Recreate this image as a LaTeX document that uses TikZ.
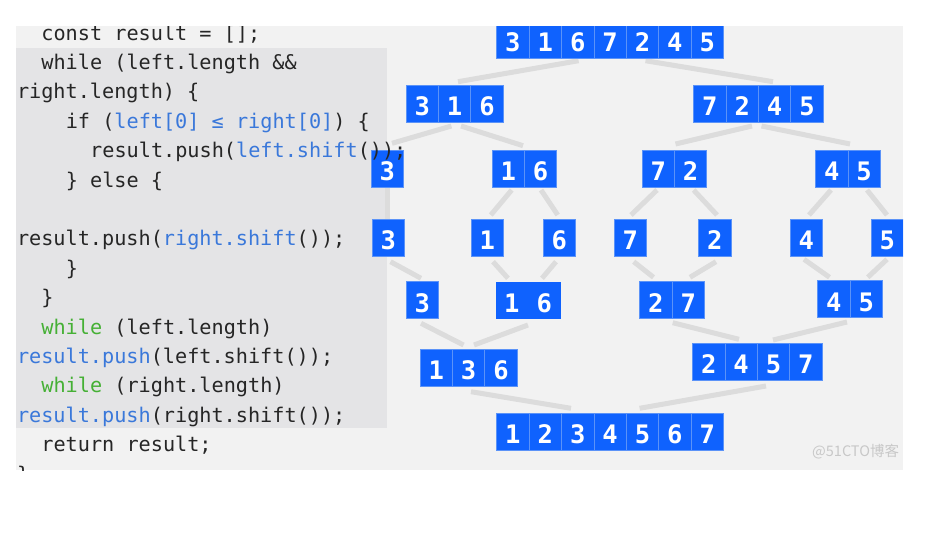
\documentclass[tikz,border=0pt]{standalone}
\usepackage{fontspec}
\usetikzlibrary{calc,backgrounds}
\newfontfamily\codefont{DejaVu Sans Mono}
\newfontfamily\digitfont{DejaVu Sans Mono Bold}
\newfontfamily\cjkfont{Noto Sans CJK SC}
\definecolor{panel}{HTML}{F2F2F2}
\definecolor{codebg}{HTML}{E4E4E6}
\definecolor{boxblue}{HTML}{0F62FE}
\definecolor{sepblue}{HTML}{5B93F8}
\definecolor{linkgray}{HTML}{DCDCDC}
\definecolor{codeink}{HTML}{262626}
\definecolor{codeblue}{HTML}{3A78DA}
\definecolor{codegreen}{HTML}{45B035}
\definecolor{wmgray}{HTML}{C8C8C8}
\tikzset{
  cell/.style={anchor=north west, fill=boxblue, draw=sepblue, line width=0.8pt,
    minimum width=32.4pt, minimum height=37pt, inner sep=0pt, outer sep=0pt,
    text=white, font=\digitfont\fontsize{25.5}{25.5}\selectfont,
    text height=24.3pt, text depth=0pt},
  link/.style={draw=linkgray, line width=5pt},
  codeline/.style={anchor=base west, inner sep=0pt, outer sep=0pt, text=codeink,
    font=\codefont\fontsize{20.2}{24}\selectfont}
}
\newcommand\cellrow[5][]{%
  \foreach \d [count=\i] in {#5}{%
    \node[cell,#1] (#2-\i) at ({#3+(\i-1)*32.4},#4) {\d};}}
\begin{document}
\begin{tikzpicture}[x=1pt,y=-1pt]
\useasboundingbox (0,0) rectangle (927,555);
\begin{scope}
\clip (16,26) rectangle (903,470);
% boxes
\cellrow{A}{496.7}{21}{3,1,6,7,2,4,5}
\cellrow{B}{406}{85.3}{3,1,6}
\cellrow{C}{693.6}{85.3}{7,2,4,5}
\cellrow{D}{371}{150}{3}
\cellrow{E}{492}{150}{1,6}
\cellrow{F}{642}{150}{7,2}
\cellrow{G}{815.5}{150}{4,5}
\cellrow{Ha}{372}{219.3}{3}
\cellrow{Hb}{471}{219.3}{1}
\cellrow{Hc}{543}{219.3}{6}
\cellrow{Hd}{614}{219.3}{7}
\cellrow{He}{698.5}{219.3}{2}
\cellrow{Hf}{790}{219.3}{4}
\cellrow{Hg}{871}{219.3}{5}
\cellrow{I}{406}{281.7}{3}
\cellrow[draw=none]{J}{495.7}{281.7}{1,6}
\cellrow{K}{639.6}{281.7}{2,7}
\cellrow{L}{817.6}{280.7}{4,5}
\cellrow{M}{420}{349}{1,3,6}
\cellrow{N}{692.5}{343.3}{2,4,5,7}
\cellrow{O}{496.7}{413.3}{1,2,3,4,5,6,7}
% code text
\node[codeline] (c1) at (41.4,40) {const result = [];};
\node[codeline] (c2) at (41.4,69.4) {while (left.length \&\&};
\node[codeline] (c3) at (17,98.8) {right.length) \{};
\node[codeline] (c4) at (65.8,128.2) {if (\textcolor{codeblue}{left[0] ≤ right[0]}) \{};
\node[codeline] (c5) at (90.2,157.6) {result.push(\textcolor{codeblue}{left.shift}());};
\node[codeline] (c6) at (65.8,187) {\} else \{};
\node[codeline] (c8) at (17,245.8) {result.push(\textcolor{codeblue}{right.shift}());};
\node[codeline] (c9) at (65.8,275.2) {\}};
\node[codeline] (c10) at (41.4,304.6) {\}};
\node[codeline] (c11) at (41.4,334) {\textcolor{codegreen}{while} (left.length)};
\node[codeline] (c12) at (17,363.4) {\textcolor{codeblue}{result.push}(left.shift());};
\node[codeline] (c13) at (41.4,392.8) {\textcolor{codegreen}{while} (right.length)};
\node[codeline] (c14) at (17,422.2) {\textcolor{codeblue}{result.push}(right.shift());};
\node[codeline] (c15) at (41.4,451.6) {return result;};
\node[codeline] (c16) at (17,481) {\}};
\node[anchor=west, inner sep=0pt, text=wmgray, font=\cjkfont\fontsize{14.5}{14.5}\selectfont] (wm) at (812,452) {@51CTO博客};
\end{scope}
\begin{scope}[on background layer]
\fill[white] (0,0) rectangle (927,555);
\fill[panel] (16,26) rectangle (903,470);
\fill[codebg] (16,48) rectangle (387,428);
\draw[link] ($(A-3.south)+(0.9,2.7)$) -- ($(B-2.north)+(3.4,-3.6)$);
\draw[link] ($(A-5.south)+(3,2.7)$) -- ($(C-3.north)+(-1.6,-3.6)$);
\draw[link] ($(B-2.south)+(-3.2,3.7)$) -- ($(D-1.north)+(4.8,-6.7)$);
\draw[link] ($(B-2.south)+(6.4,3.7)$) -- ($(E-1.north east)+(-1.4,-4.3)$);
\draw[link] ($(C-2.south east)+(-6.4,3.7)$) -- ($(F-1.north east)+(1.1,-6)$);
\draw[link] ($(C-2.south east)+(3.1,3.7)$) -- ($(G-1.north east)+(2.1,-6)$);
\draw[link] (D-1.south) -- (D-1.south |- Ha-1.north);
\draw[link] ($(E-1.south)+(3.5,3)$) -- ($(Hb-1.north)+(3.6,-4.3)$);
\draw[link] ($(E-2.south)+(0.4,3)$) -- ($(Hc-1.north)+(-1.5,-4.3)$);
\draw[link] ($(F-1.south)+(-1.2,3)$) -- ($(Hd-1.north)+(0.8,-4.3)$);
\draw[link] ($(F-2.south)+(3,3)$) -- ($(He-1.north)+(2.3,-4.3)$);
\draw[link] ($(G-1.south)+(-0.7,3)$) -- ($(Hf-1.north)+(2.8,-4.3)$);
\draw[link] ($(G-2.south)+(2.9,3)$) -- ($(Hg-1.north)+(-0.2,-4.3)$);
\draw[link] ($(Ha-1.south)+(2.3,5.4)$) -- ($(I-1.north)+(-1.2,-3.4)$);
\draw[link] ($(Hb-1.south)+(5.8,5.4)$) -- ($(J-1.north)+(-3.9,-3.4)$);
\draw[link] ($(Hc-1.south)+(-3.2,5.4)$) -- ($(J-2.north)+(-2.3,-3.4)$);
\draw[link] ($(Hd-1.south)+(3.5,5.4)$) -- ($(K-1.north)+(-2.3,-4.4)$);
\draw[link] ($(He-1.south)+(1.3,5.4)$) -- ($(K-2.north)+(1.8,-4.4)$);
\draw[link] ($(Hf-1.south)+(-2.2,3)$) -- ($(L-1.north)+(-4.3,-3.4)$);
\draw[link] ($(Hg-1.south)+(-0.2,3)$) -- ($(L-2.north)+(1.6,-3.4)$);
\draw[link] ($(I-1.south)+(-1.2,4.6)$) -- ($(M-2.north)+(-5,-4)$);
\draw[link] ($(J-1.south east)+(-0.1,6.3)$) -- ($(M-2.north)+(5.4,-4)$);
\draw[link] ($(K-1.south east)+(0.7,4)$) -- ($(N-2.north)+(-2.1,-4)$);
\draw[link] ($(L-1.south east)+(-3,4.3)$) -- ($(N-3.north)+(-0.5,-3.3)$);
\draw[link] ($(M-2.south)+(2.4,5.7)$) -- ($(O-3.north)+(-6.7,-5)$);
\draw[link] ($(N-3.south)+(-7.5,5.7)$) -- ($(O-5.north)+(-2.9,-5)$);
\end{scope}
\end{tikzpicture}
\end{document}
